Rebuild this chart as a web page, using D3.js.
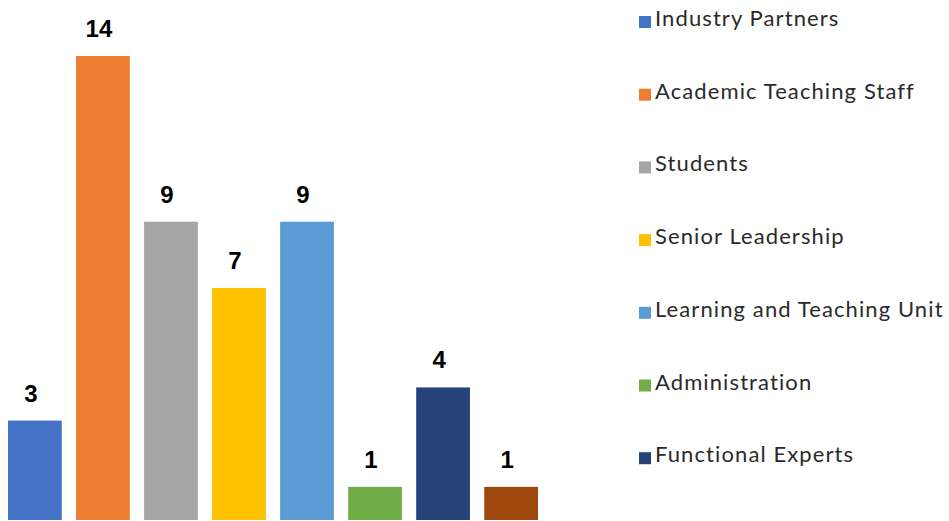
<!DOCTYPE html>
<html>
<head>
<meta charset="utf-8">
<script src="https://cdn.jsdelivr.net/npm/d3@7"></script>
<style>
  body { margin: 0; background: #fff; }
  svg { display: block; }
</style>
</head>
<body>
<svg id="chart" width="949" height="521"></svg>
<script>
// chart data
var categories = ["Industry Partners", "Academic Teaching Staff", "Students", "Senior Leadership",
                  "Learning and Teaching Unit", "Administration", "Functional Experts", "Other"];
var counts = [3, 14, 9, 7, 9, 1, 4, 1];
var colors = ["#4472c4", "#ed7d31", "#a5a5a5", "#ffc000", "#5b9bd5", "#70ad47", "#264478", "#9e480e"];
// the legend in the picture lists only the first seven
var legendLabels = categories.slice(0, 7);

var data = categories.map(function (c, i) {
  return {group: c, count: counts[i], color: colors[i]};
});

var svg = d3.select("#chart");

var x = d3.scaleBand()
  .domain(data.map(function (d) { return d.group; }))
  .range([8, 538])
  .paddingInner(0.21)
  .paddingOuter(0);

var y = d3.scaleLinear()
  .domain([0, 14])
  .range([520, 56]);

var g = svg.append("g");

g.selectAll(".bar")
  .data(data)
  .enter().append("rect")
  .attr("class", "bar")
  .attr("x", function (d) { return x(d.group); })
  .attr("y", function (d) { return y(d.count); })
  .attr("width", x.bandwidth())
  .attr("height", function (d) { return y(0) - y(d.count); })
  .attr("fill", function (d) { return d.color; });

// value labels above bars (sit a little left of centre in the original)
g.selectAll(".label")
  .data(data)
  .enter().append("text")
  .attr("class", "label")
  .attr("x", function (d) { return x(d.group) + x.bandwidth() / 2 - 4; })
  .attr("y", function (d) { return y(d.count) - 19; })
  .attr("text-anchor", "middle")
  .style("font-family", "'Liberation Sans', Arial, sans-serif")
  .style("font-size", "24px")
  .style("font-weight", "bold")
  .style("fill", "#000")
  .text(function (d) { return d.count; });

// legend
var legend = svg.append("g")
  .selectAll("g")
  .data(legendLabels)
  .enter().append("g")
  .attr("transform", function (d, i) { return "translate(639," + (26 + i * 72.7) + ")"; });

legend.append("rect")
  .attr("x", 0)
  .attr("y", -10)
  .attr("width", 12)
  .attr("height", 12)
  .attr("fill", function (d, i) { return colors[i]; });

legend.append("text")
  .attr("x", 16)
  .attr("y", 0)
  .style("font-family", "Lato, 'Noto Sans', sans-serif")
  .style("font-size", "22px")
  .style("letter-spacing", "1.1px")
  .style("fill", "#2a2a2a")
  .text(function (d) { return d; });
</script>
</body>
</html>
